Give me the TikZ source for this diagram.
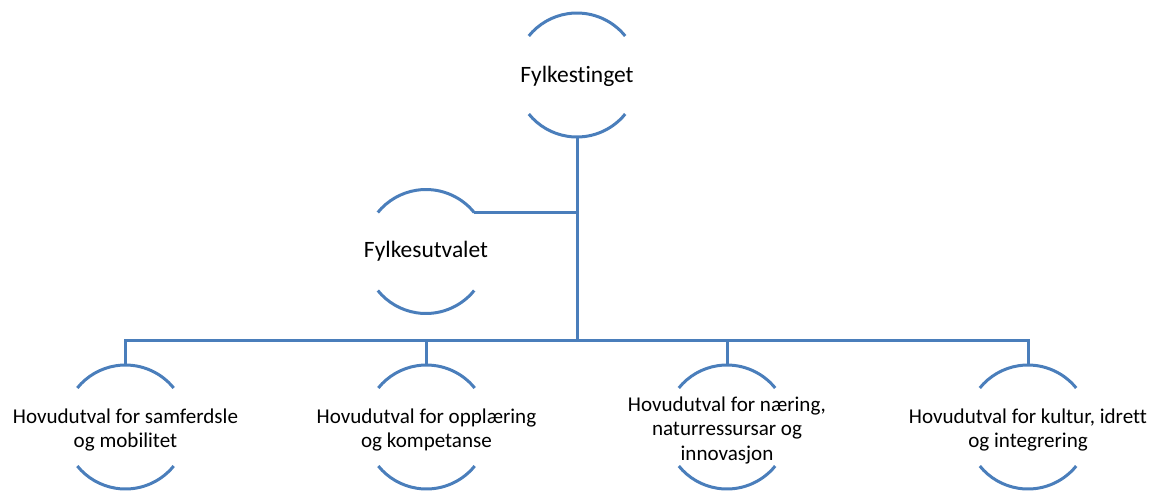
\documentclass[tikz,border=0pt]{standalone}
\usepackage{fontspec}
\setmainfont{Carlito}[Ligatures={NoCommon}]
\definecolor{lineblue}{RGB}{74,126,187}
\newcommand\unitarcs[1]{%
  \draw ([shift={(39:46.5pt)}]#1.center) arc[start angle=39,end angle=141,radius=46.5pt];
  \draw ([shift={(-39:46.5pt)}]#1.center) arc[start angle=-39,end angle=-141,radius=46.5pt];}
\begin{document}
\begin{tikzpicture}[x=0.75pt,y=-0.75pt,line width=2.25pt,draw=lineblue,
  unit/.style={inner sep=0pt,align=center,text=black},
  toptext/.style={unit,font=\fontsize{17.6}{19.5}\selectfont},
  subtext/.style={unit,font=\fontsize{15.8}{18.2}\selectfont}]
\useasboundingbox (0,0) rectangle (1154,490);
% units (circle centres)
\coordinate (tc) at (577,75);
\coordinate (fuc) at (426,251.5);
\coordinate (h1c) at (125.5,427);
\coordinate (h2c) at (426.5,427);
\coordinate (h3c) at (727,427);
\coordinate (h4c) at (1028,427);
\node[toptext] (t) at ([yshift=-1pt]tc) {Fylkestinget};
\node[toptext] (fu) at (fuc) {Fylkesutvalet};
\node[subtext] (h1) at ([yshift=-2.2pt]h1c) {Hovudutval for samferdsle\\og mobilitet};
\node[subtext] (h2) at ([yshift=-2.2pt]h2c) {Hovudutval for opplæring\\og kompetanse};
\node[subtext] (h3) at ([yshift=-2.5pt]h3c) {Hovudutval for næring,\\naturressursar og\\innovasjon};
\node[subtext] (h4) at ([yshift=-2.2pt]h4c) {Hovudutval for kultur, idrett\\og integrering};
\foreach \n in {tc,fuc,h1c,h2c,h3c,h4c}{\unitarcs{\n}}
% anchor points
\coordinate (tB) at ([yshift=-46.5pt]tc);
\coordinate (fuR) at ([shift={(39:46.5pt)}]fuc);
\coordinate (bus) at (577,340);
\foreach \n in {h1,h2,h3,h4}{\coordinate (\n T) at ([yshift=46.5pt]\n c);}
% connectors
\draw (tB) -- (bus);
\draw (fuR) -- (fuR -| tB);
\draw (h1T) -- (h1T |- bus) -- (h4T |- bus) -- (h4T);
\draw (h2T) -- (h2T |- bus);
\draw (h3T) -- (h3T |- bus);
\end{tikzpicture}
\end{document}
